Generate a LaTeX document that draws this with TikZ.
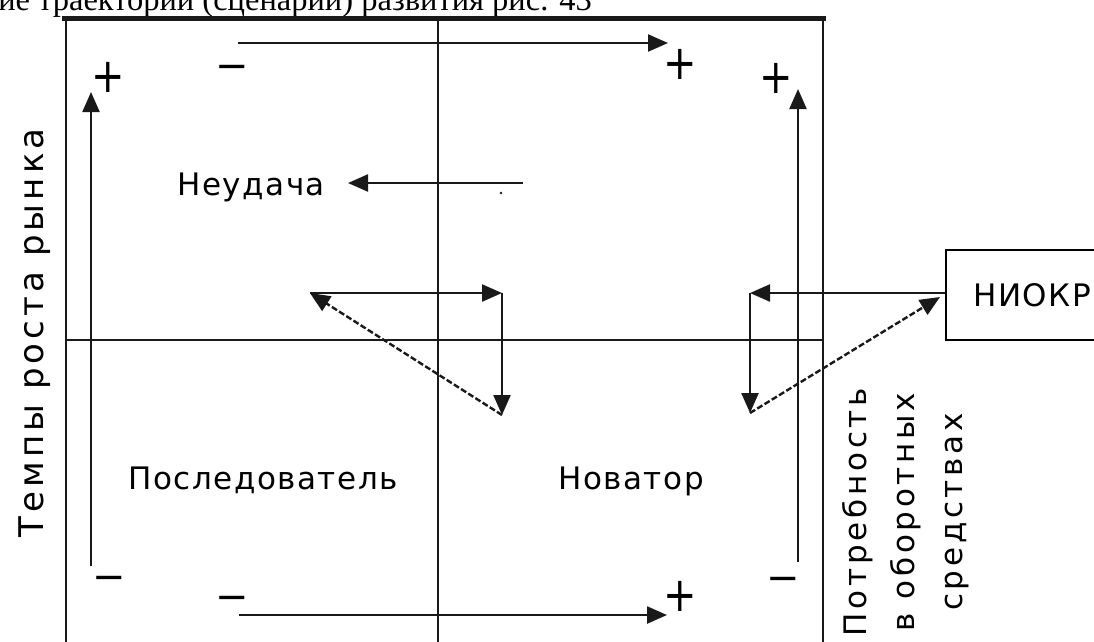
\documentclass[tikz,border=0pt]{standalone}
\usepackage{fontspec}
\setmainfont{DejaVu Sans}
\newfontfamily\lblfont{DejaVu Sans}[LetterSpace=5]
\newfontfamily\widefont{DejaVu Sans}[LetterSpace=12]
\newfontfamily\serifru{Liberation Serif}
\usetikzlibrary{arrows.meta}
\begin{document}
\begin{tikzpicture}[x=1pt,y=-1pt,
  frame/.style={line width=2.3pt, black!90},
  arr/.style={line width=2.3pt, black!90, -{Triangle[length=20pt,width=17pt]}},
  dsh/.style={line width=2.4pt, black!90, dash pattern=on 6pt off 2.5pt, -{Triangle[length=20pt,width=17pt]}},
  lbl/.style={font=\lblfont\fontsize{31}{36}\selectfont, inner sep=0pt},
  vlbl/.style={font=\widefont\fontsize{31}{36}\selectfont, inner sep=0pt, rotate=90, anchor=base},
  sign/.style={font=\fontsize{40}{40}\selectfont, inner sep=0pt, text height=14pt, text depth=-2pt}]
\clip (0,0) rectangle (1094,641);
\fill[white] (0,0) rectangle (1094,641);
% cropped caption at top
\node[font=\serifru\fontsize{32.5}{36}\selectfont, inner sep=0pt, anchor=base east] (cap) at (592,10) {ие траектории (сценарии) развития рис. 43};
% frame
\draw[line width=5pt, black!90] (62,18) -- (826,18);
\draw[frame] (66,16) -- (66,645);
\draw[frame] (823,16) -- (823,645);
\draw[frame] (438,18) -- (438,645);
\draw[frame] (66,340) -- (823,340);
% outer arrows
\coordinate (l0) at (91,566); \coordinate (l1) at (91,92);
\coordinate (r0) at (798,562); \coordinate (r1) at (798,89);
\coordinate (t0) at (238,43); \coordinate (t1) at (668,43);
\coordinate (b0) at (239,615); \coordinate (b1) at (667,615);
\draw[arr] (l0) -- (l1);
\draw[arr] (r0) -- (r1);
\draw[arr] (t0) -- (t1);
\draw[arr] (b0) -- (b1);
% signs
\node[sign] (s1) at (108,85) {\scalebox{1}[1.2]{+}};
\node[sign] (s2) at (776,86) {\scalebox{1}[1.2]{+}};
\node[sign] (s3) at (680,72) {\scalebox{1}[1.2]{+}};
\node[sign] (s4) at (680,604) {\scalebox{1}[1.2]{+}};
\node[sign] (s5) at (232,72) {−};
\node[sign] (s6) at (232,603) {−};
\node[sign] (s7) at (109,583) {−};
\node[sign] (s8) at (783,584) {−};
% labels
\node[lbl, anchor=base west] (fail) at (177,195) {Неудача};
\node[lbl, anchor=base west] (foll) at (128,489) {Последователь};
\node[lbl, anchor=base west] (inno) at (558,489) {Новатор};
\node[vlbl, font=\widefont\fontsize{34}{40}\selectfont] (tempy) at (43,333) {Темпы роста рынка};
\node[vlbl] (need1) at (866,512) {Потребность};
\node[vlbl] (need2) at (914,512) {в оборотных};
\node[vlbl] (need3) at (962,512) {средствах};
% failure arrow
\coordinate (f0) at (523,183); \coordinate (f1) at (348,183);
\draw[arr] (f0) -- (f1);
\fill[black!90] (501,193) circle (1.4pt);
% middle cycle
\coordinate (A) at (310,293); \coordinate (B) at (502,293); \coordinate (C) at (502,415);
\draw[arr] (A) -- (B);
\draw[arr] (B) -- (C);
\draw[dsh] (C) -- (A);
% NIOKR box and right cycle
\node[draw, line width=2.3pt, lbl, anchor=north west, minimum width=172pt, minimum height=90pt] (niokr) at (945,249) {НИОКР};
\coordinate (D) at (niokr.west |- 0,293);
\coordinate (E) at (750,293); \coordinate (F) at (750,413);
\coordinate (D2) at (940,297);
\draw[arr] (D) -- (E);
\draw[arr] (E) -- (F);
\draw[dsh] (F) -- (D2);
\end{tikzpicture}
\end{document}
